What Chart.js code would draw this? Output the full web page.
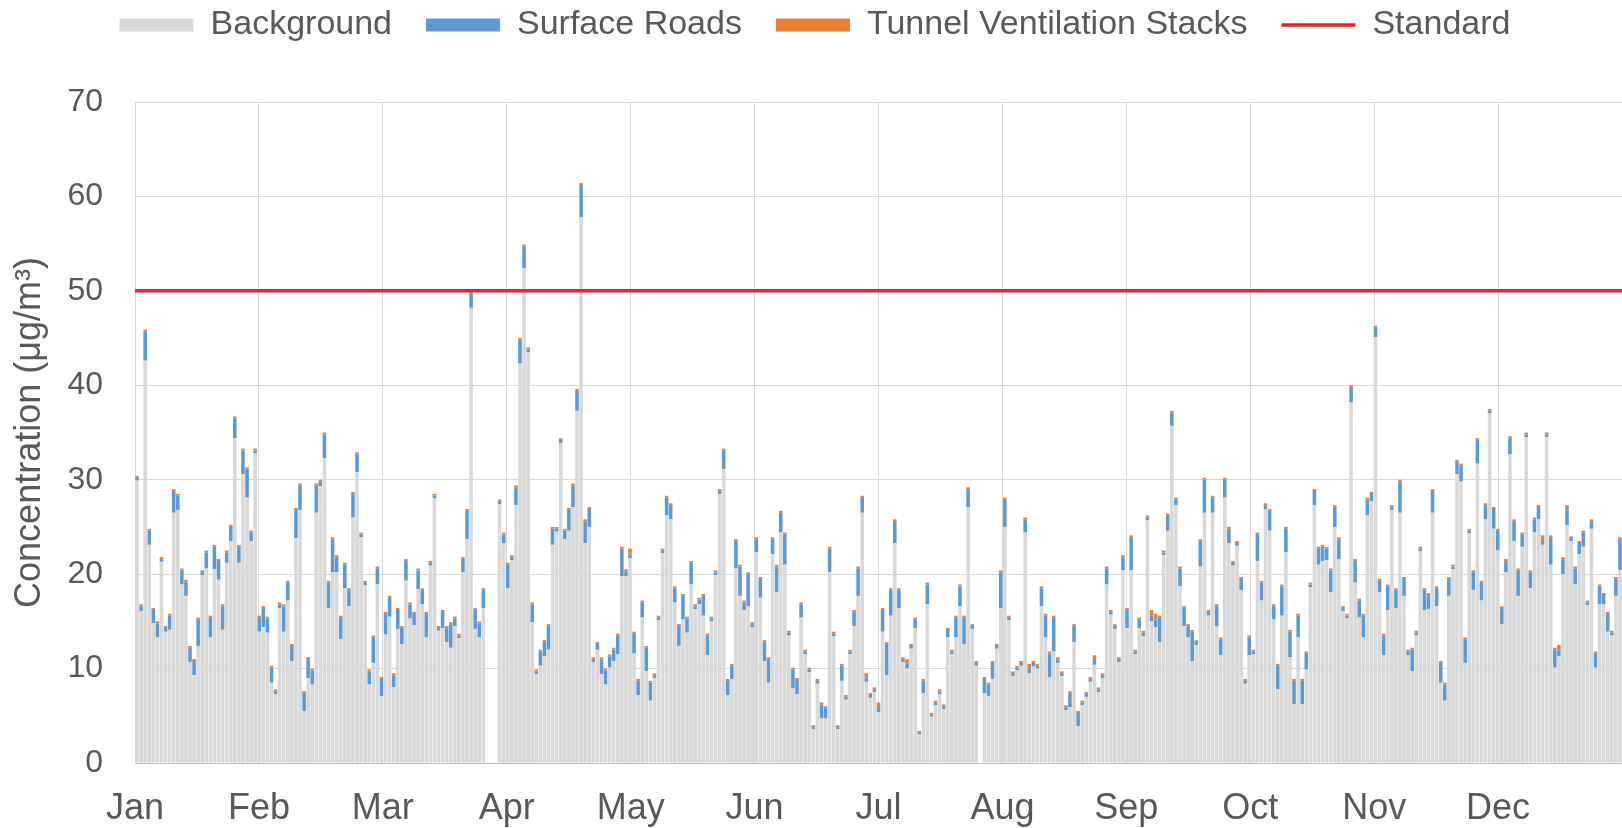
<!DOCTYPE html>
<html lang="en">
<head>
<meta charset="UTF-8">
<title>Daily concentration by source</title>
<script src="https://cdn.jsdelivr.net/npm/chart.js"></script>
<style>
  body { margin: 0; background: #fff; }
  .wrap { position: relative; width: 1622px; height: 828px; }
</style>
</head>
<body>
<div class="wrap"><canvas id="chart"></canvas></div>
<script>
// month labels on the x axis (12 equal intervals)
const monthLabels = ['Jan', 'Feb', 'Mar', 'Apr', 'May', 'Jun', 'Jul', 'Aug', 'Sep', 'Oct', 'Nov', 'Dec'];

// daily background contribution (µg/m3), one line per month-wide section
const background = [
  29.9,16.1,42.6,23.1,14.8,13.3,21.3,13.9,14.1,26.5,26.8,18.9,17.7,10.7,9.3,12.4,19.9,20.6,13.3,20.5,19.4,14.1,21.2,23.5,34.4,21.2,30.6,28.1,23.5,32.8,13.9,
  14.4,13.8,8.5,7.3,16.4,13.9,17.2,10.8,23.8,26.8,5.5,9,8.3,26.5,29.3,32.3,16.4,20.2,20.2,13.1,18.5,16.6,26,30.8,23.9,18.8,8.3,10.6,18.9,7.1,
  13.6,15.5,8,14.2,12.6,19.3,15.3,14.6,18.4,16.8,13.3,20.9,28,14,14.3,12.8,12.2,14.5,13.2,20.2,23.7,48.2,14.2,13.3,16.4,0,0,0,27.4,23.3,18.5,
  21.5,27.3,42.3,52.4,43.5,14.9,9.4,10.3,11.3,12,23.1,24.5,33.9,23.7,24.6,27.1,37.3,57.8,23.3,25,10.7,12,9.4,8.3,10.1,10.8,11.5,19.8,19.8,21.7,11.6,
  7.2,15.4,9.7,6.6,9,15.1,22.2,26.2,25.8,17,12.4,15.2,13.8,18.9,16.3,16.8,15.6,11.4,15,19.9,28.5,31.1,7.2,8.9,20.6,17.7,16.2,16.6,14.4,22.3,17.5,
  10.8,8.5,22.1,18.1,24.4,21,13.5,7.9,7.3,15.4,11.5,9.6,3.6,8.4,4.7,4.7,20.2,13.4,3.6,8.7,6.7,11.5,14.5,17.7,26.5,8.6,6.9,7.5,5.4,13.9,
  9.3,15.6,23.3,16.4,10.7,10,12.1,14.3,3,7.4,16.8,4.9,6.1,7.3,5.7,13.3,11.5,13.3,16.6,12.6,27.1,14.2,10.3,0,7.4,7.1,8.9,12.1,16.4,25,15.1,9.2,
  9.8,10.3,24.4,9.5,10.2,10,16.6,13.3,9.1,11.8,10.6,9.2,5.6,5.9,12.8,3.9,6.1,7,8.6,10.4,7.5,9,18.9,15.7,14.2,10.7,20.4,14.3,20.4,11.5,
  14.3,13.4,25.7,15,14.4,12.8,22,24.6,35.7,27.3,18.7,14.5,13.3,10.8,12.5,20.8,26.5,15.6,26.5,14.5,11.4,28.1,23.3,20.9,23,18.3,8.4,11.4,11.5,21.4,17.2,
  26.9,24.6,15.2,7.8,15.6,22.3,11.2,6.2,13.3,6.2,9.9,18.6,27.3,21,21.4,21.5,18.1,25,21.6,16.1,15.3,38.2,19.1,15.4,13.3,26.2,27.7,45.1,18.1,11.4,16.2,
  26.8,16.4,26.5,17.7,11.4,9.7,13.5,22.4,16.2,16.3,26.5,16.6,8.5,6.6,17.7,20.5,30.6,29.8,10.6,24.3,18.3,31.7,17.2,25.8,37,24.8,22.5,14.7,20.2,32.7,
  23.5,17.7,22.9,34.5,18.5,24.4,25.8,23.1,34.5,21,10.1,11.3,20,25.2,23.5,18.9,22.1,22.9,16.7,24.8,10.1,16.8,16.8,13.9,13.5,17.7,20.4
];

// daily surface roads contribution
const surfaceRoads = [
  0.3,0.5,3.1,1.5,1.4,1.5,0.3,0.4,1.5,2.3,1.5,1.5,1.5,1.5,1.5,2.8,0.3,1.7,2.1,2.4,2,2.5,1.1,1.5,2.1,1.7,2.5,3,0.9,0.3,1.5,
  2,1.5,1.6,0.3,0.4,2.7,1.9,1.6,3,2.6,1.9,2,1.5,2.9,0.5,2.5,2.7,3.5,1.6,2.3,2.5,1.7,2.5,1.9,0.3,0.3,1.4,2.7,1.7,1.8,
  2.2,2,1.3,2,1.7,2.1,1.5,1.2,2,1.5,2.5,0.3,0.3,0.3,1.7,1.5,2.5,0.8,0.3,1.4,3,1.6,2,1.5,1.9,0,0,0,0.3,0.9,2.5,
  0.3,1.9,2.5,2.3,0.3,1.9,0.3,1.5,1.5,2.5,1.7,0.3,0.3,0.9,2.2,2.3,2.1,3.4,2.3,1.9,0.3,0.6,1.6,1.5,1.2,1.2,2,2.9,0.5,0.4,2.1,
  1.5,1.6,2.5,1.9,0.3,0.3,0.3,1.9,1.5,1.5,2.1,2.5,1.5,2.3,0.3,0.5,2.1,2.1,0.3,0.3,0.3,2,1.5,1.4,2.9,3.1,0.8,3.4,0.3,1.4,2,
  2,2.5,1.6,2.7,2.1,3.2,0.3,2,1.5,1.4,0.3,0.3,0.2,0.3,1.5,1.1,2.5,0.3,0.2,1.6,0.3,0.3,1.5,2.9,1.6,0.4,0.3,0.3,0.5,2.3,
  3.3,2.7,2.3,1.9,0.3,0.5,0.3,0.9,0.2,1.3,2.1,0.2,0.3,0.3,0.3,0.8,0.3,2.1,2.1,2.8,1.9,0.3,0.3,0,1.5,1.2,1.7,0.3,3.8,2.9,0.3,0.3,
  0.3,0.3,1.4,0.5,0.4,0.3,1.9,2.3,2.5,3.6,0.4,0.3,0.3,1.5,1.7,1.4,0.3,0.3,0.3,0.5,0.3,0.3,1.7,0.3,0.3,0.3,1.4,1.9,3.5,0.3,
  0.9,0.4,0.3,0.6,0.8,2.6,0.3,1.6,1.4,0.6,1.9,1.9,1.2,3.1,0.3,2.7,3.5,0.4,1.6,2.1,1.7,1.9,1.5,0.3,0.3,1.2,0.3,1.9,0.3,2.8,1.9,
  0.4,2.1,1.4,2.5,3.1,2.5,2.7,2.5,2.3,2.5,1.7,0.3,1.5,1.7,1.5,1.2,2.3,2.1,2.1,0.3,0.3,1.6,2.3,1.8,2.3,1.7,0.8,1,1.2,2.1,2.5,
  0.3,1.9,3.3,1.8,0.4,2.3,0.3,0.3,2.1,1.5,2.3,1.9,2.1,1.7,1.8,0.3,1.3,1.7,2.5,0.3,1.9,2.5,1.9,1.5,0.3,2.1,2.1,1.7,1.2,1.7,
  2.1,2.7,1.3,0.3,1.7,1.4,1.3,0.5,0.3,2.9,1.9,0.6,1.6,1.9,0.3,1.7,1.2,1.5,0.3,0.8,1.5,1.9,1,1.9,0.3,1.8,3.3
];

// daily tunnel ventilation stacks contribution (very small)
const tunnelStacks = [
  0.2,0.2,0.2,0.2,0.2,0.2,0.2,0.2,0.2,0.2,0.2,0.2,0.2,0.2,0.2,0.2,0.2,0.2,0.2,0.2,0.2,0.2,0.2,0.2,0.2,0.2,0.2,0.2,0.2,0.2,0.2,
  0.2,0.2,0.2,0.2,0.2,0.2,0.2,0.2,0.2,0.2,0.2,0.2,0.2,0.2,0.2,0.2,0.2,0.2,0.2,0.2,0.2,0.2,0.2,0.2,0.2,0.2,0.2,0.2,0.2,0.2,
  0.2,0.2,0.2,0.2,0.2,0.2,0.2,0.2,0.2,0.2,0.2,0.2,0.2,0.2,0.2,0.2,0.2,0.2,0.2,0.2,0.2,0.2,0.2,0.2,0.2,0,0,0,0.2,0.2,0.2,
  0.2,0.2,0.2,0.2,0.2,0.2,0.2,0.2,0.2,0.2,0.2,0.2,0.2,0.2,0.2,0.2,0.2,0.2,0.2,0.2,0.2,0.2,0.2,0.2,0.2,0.2,0.2,0.2,0.2,0.6,0.2,
  0.2,0.2,0.2,0.2,0.2,0.2,0.2,0.2,0.2,0.2,0.2,0.2,0.2,0.2,0.2,0.2,0.2,0.2,0.2,0.2,0.2,0.2,0.2,0.2,0.2,0.2,0.2,0.2,0.2,0.2,0.2,
  0.2,0.2,0.2,0.2,0.2,0.2,0.2,0.2,0.2,0.2,0.2,0.2,0.2,0.2,0.2,0.2,0.2,0.2,0.2,0.2,0.2,0.2,0.2,0.2,0.2,0.5,0.2,0.2,0.5,0.2,
  0.2,0.2,0.2,0.2,0.2,0.5,0.2,0.2,0.2,0.2,0.2,0.2,0.2,0.2,0.2,0.2,0.2,0.2,0.2,0.2,0.2,0.2,0.2,0,0.2,0.2,0.2,0.2,0.2,0.2,0.2,0.2,
  0.2,0.2,0.2,0.5,0.2,0.2,0.2,0.2,0.2,0.2,0.2,0.2,0.2,0.2,0.2,0.2,0.2,0.2,0.2,0.5,0.2,0.2,0.2,0.2,0.2,0.2,0.2,0.2,0.2,0.2,
  0.2,0.2,0.2,0.6,0.6,0.2,0.2,0.2,0.2,0.2,0.2,0.2,0.2,0.2,0.2,0.2,0.2,0.2,0.2,0.2,0.2,0.2,0.2,0.2,0.2,0.2,0.2,0.2,0.2,0.2,0.2,
  0.2,0.2,0.2,0.2,0.2,0.2,0.2,0.2,0.2,0.2,0.2,0.2,0.2,0.2,0.2,0.2,0.2,0.2,0.2,0.2,0.2,0.2,0.2,0.2,0.2,0.2,0.2,0.2,0.2,0.2,0.2,
  0.2,0.2,0.2,0.2,0.2,0.2,0.2,0.2,0.2,0.2,0.2,0.2,0.2,0.2,0.2,0.2,0.2,0.2,0.2,0.2,0.2,0.2,0.2,0.2,0.2,0.2,0.2,0.2,0.2,0.2,
  0.2,0.2,0.2,0.2,0.2,0.2,0.2,0.5,0.2,0.2,0.2,0.6,0.2,0.2,0.2,0.2,0.2,0.2,0.2,0.2,0.2,0.2,0.2,0.2,0.2,0.2,0.2
];

// 24-hour standard
const standardValue = 50;

const dayCount = background.length;
const textColor = '#595959';
const fontFamily = "'Liberation Sans', Arial, sans-serif";

// bars sit in the middle of each day slot on a linear x axis
const toPoints = arr => arr.map((v, i) => ({ x: i + 0.5, y: v }));

// leave a gap between the legend and the plot
const legendGap = {
  id: 'legendGap',
  beforeInit(chart) {
    const fit = chart.legend.fit;
    chart.legend.fit = function () {
      fit.call(this);
      this.height += 50;
    };
  }
};

new Chart(document.getElementById('chart'), {
  type: 'bar',
  data: {
    datasets: [
      {
        label: 'Background',
        data: toPoints(background),
        backgroundColor: '#d9d9d9',
        borderWidth: 0,
        pointStyle: 'rect',
        stack: 'src',
        order: 1,
        categoryPercentage: 1,
        barPercentage: 0.88
      },
      {
        label: 'Surface Roads',
        data: toPoints(surfaceRoads),
        backgroundColor: '#5b9bd5',
        borderWidth: 0,
        pointStyle: 'rect',
        stack: 'src',
        order: 1,
        categoryPercentage: 1,
        barPercentage: 0.88
      },
      {
        label: 'Tunnel Ventilation Stacks',
        data: toPoints(tunnelStacks),
        backgroundColor: '#ed7d31',
        borderWidth: 0,
        pointStyle: 'rect',
        stack: 'src',
        order: 1,
        categoryPercentage: 1,
        barPercentage: 0.88
      },
      {
        type: 'line',
        label: 'Standard',
        data: [{ x: 0, y: standardValue }, { x: dayCount, y: standardValue }],
        borderColor: '#e4252d',
        backgroundColor: '#e4252d',
        borderWidth: 3.5,
        pointRadius: 0,
        pointStyle: 'line',
        stack: 'standard',
        order: 0
      }
    ]
  },
  options: {
    responsive: true,
    maintainAspectRatio: false,
    animation: false,
    layout: { padding: { top: -26, left: 8, right: 0, bottom: 0 } },
    plugins: {
      tooltip: { enabled: false },
      legend: {
        position: 'top',
        labels: {
          usePointStyle: true,
          pointStyleWidth: 74,
          boxHeight: 13,
          padding: 34,
          color: textColor,
          font: { family: fontFamily, size: 34 },
          sort: (a, b) => a.datasetIndex - b.datasetIndex
        }
      }
    },
    scales: {
      x: {
        type: 'linear',
        stacked: true,
        min: 0,
        max: dayCount,
        offset: false,
        afterBuildTicks: scale => {
          scale.ticks = monthLabels.map((m, i) => ({ value: i * dayCount / 12 }))
            .concat([{ value: dayCount }]);
        },
        afterFit: scale => {
          scale.height = 65;
          // plot runs right to the edge of the picture
          scale.paddingRight = 0;
        },
        ticks: {
          autoSkip: false,
          maxRotation: 0,
          padding: 24,
          color: textColor,
          font: { family: fontFamily, size: 36 },
          callback: (value, index) => monthLabels[index] || ''
        },
        grid: { color: '#d9d9d9', drawTicks: false, offset: false },
        border: { color: '#bfbfbf' }
      },
      y: {
        stacked: true,
        min: 0,
        max: 70,
        afterFit: scale => { scale.width = 127; },
        ticks: {
          stepSize: 10,
          padding: 32,
          color: textColor,
          font: { family: fontFamily, size: 32 }
        },
        grid: { color: '#d9d9d9', drawTicks: false },
        border: { color: '#d9d9d9' },
        title: {
          display: true,
          text: 'Concentration (μg/m³)',
          color: textColor,
          padding: 0,
          font: { family: fontFamily, size: 36 }
        }
      }
    }
  },
  plugins: [legendGap]
});
</script>
</body>
</html>
